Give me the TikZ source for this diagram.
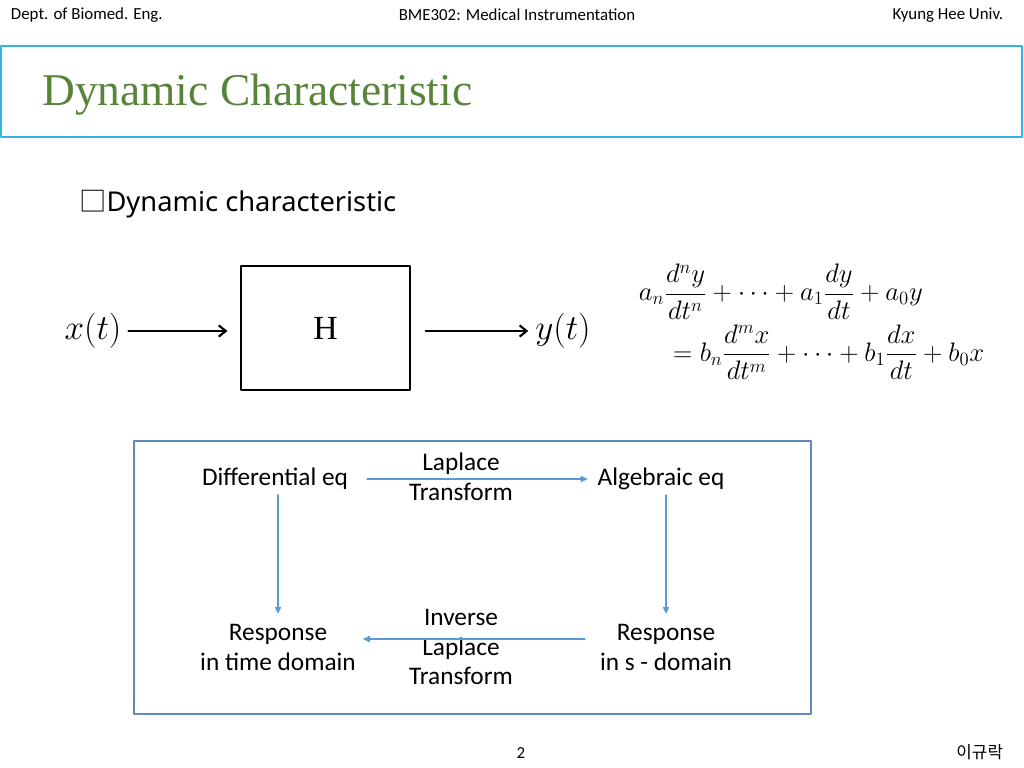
\RequirePackage{fix-cm}
\documentclass[tikz,border=0pt]{standalone}
\usepackage{amsmath}
\usepackage{fontspec}
\setmainfont{Carlito}
\newfontfamily\titlefont{Liberation Serif}
\newfontfamily\subfont{Noto Sans}
\newfontfamily\krfont{Noto Sans CJK KR}
\usetikzlibrary{arrows.meta}
\definecolor{frameblue}{RGB}{52,180,226}
\definecolor{titlegreen}{RGB}{88,132,58}
\definecolor{boxblue}{RGB}{96,138,190}
\definecolor{flowblue}{RGB}{91,155,213}
\begin{document}
\begin{tikzpicture}[x=0.025cm,y=-0.025cm,line join=round,line cap=round,
	head/.style={font=\fontsize{12}{14}\selectfont},
	flowtext/.style={font=\fontsize{18}{21.3}\selectfont,align=center},
	sig/.style={line width=1.5pt,-{Straight Barb[length=5pt,width=8pt]}},
	flow/.style={flowblue,line width=0.8pt,-{Triangle[length=5pt,width=4.5pt]}}]
	\def\px{0.025cm}
	\useasboundingbox (0,0) rectangle (1024,768);
	% header and title
	\node[head,anchor=west] (dept) at (6,15) {Dept. of Biomed. Eng.};
	\node[head] (course) at (517,15) {BME302: Medical Instrumentation};
	\node[head,anchor=east] (univ) at (1008,15) {Kyung Hee Univ.};
	\draw[frameblue,line width=1.6pt] (1,46) rectangle (1022,137);
	\node[anchor=base west,inner sep=0pt,text=titlegreen,font=\titlefont\fontsize{32.3}{36}\selectfont] (title) at (42,106) {Dynamic Characteristic};
	\node[anchor=west,inner sep=0pt,font=\subfont\fontsize{19.4}{24}\selectfont] (sub) at (79,204) {{\krfont □}Dynamic characteristic};
	% system block
	\node[draw,line width=0.8pt,minimum width=169*\px,minimum height=124*\px,font=\titlefont\fontsize{24}{28}\selectfont] (H) at (325.5,328) {H};
	\node[font=\fontsize{25}{28}\selectfont] (xin) at (93,331) {$x(t)$};
	\node[font=\fontsize{25}{28}\selectfont] (yout) at (563,331) {$y(t)$};
	\draw[sig,shorten <=2*\px,shorten >=13*\px] (xin.east) -- (xin.east -| H.west);
	\draw[sig,shorten <=15*\px,shorten >=2*\px] (yout.west -| H.east) -- (yout.west);
	\node[anchor=west,font=\fontsize{19}{22}\selectfont] (ode) at (634,322) {$\begin{aligned}
		&a_n\dfrac{d^ny}{dt^n}+\cdots+a_1\dfrac{dy}{dt}+a_0y\\
		&\quad=b_n\dfrac{d^mx}{dt^m}+\cdots+b_1\dfrac{dx}{dt}+b_0x
	\end{aligned}$};
	% transform diagram
	\draw[boxblue,line width=1pt] (134,441) rectangle (811,714);
	\node[flowtext] (deq) at (275,479) {Differential eq};
	\node[flowtext] (aeq) at (661,479) {Algebraic eq};
	\node[flowtext] (rtime) at (278,647) {Response\\in time domain};
	\node[flowtext] (rs) at (666,647) {Response\\in s - domain};
	\node[flowtext] (lt) at (461,477) {Laplace\\Transform};
	\node[flowtext] (ilt) at (461,647) {Inverse\\Laplace\\Transform};
	\draw[flow] ([xshift=14*\px]deq.east) -- ([xshift=-5*\px]aeq.west);
	\draw[flow] (deq.south -| rtime.north) -- ([yshift=5*\px]rtime.north);
	\draw[flow] (aeq.south -| rs.north) -- ([yshift=5*\px]rs.north);
	\draw[flow] ([yshift=8*\px,xshift=-10*\px]rs.west) -- ([yshift=8*\px,xshift=2*\px]rtime.east);
	% footer
	\node[head] (page) at (521,753) {2};
	\node[anchor=east,font=\krfont\fontsize{12}{14}\selectfont] (name) at (1008,752) {이규락};
\end{tikzpicture}
\end{document}
